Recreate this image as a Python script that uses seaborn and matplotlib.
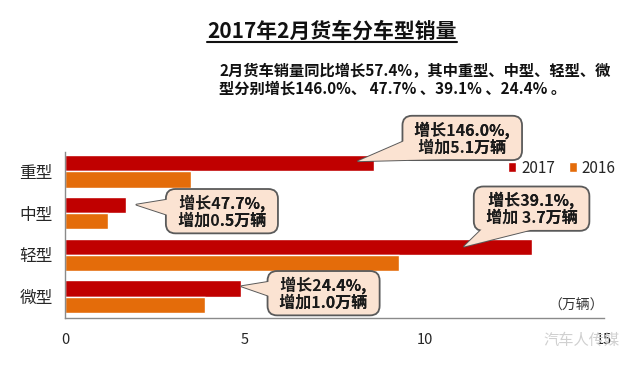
import matplotlib
matplotlib.use('Agg')
import matplotlib.pyplot as plt
from matplotlib.lines import Line2D
import pandas as pd
import seaborn as sns

# 数据 (万辆)
types = ['重型', '中型', '轻型', '微型']
sales_2017 = [8.6, 1.7, 13.0, 4.9]
sales_2016 = [3.5, 1.2, 9.3, 3.9]
years = ['2017', '2016']
callouts = ['增长146.0%,\n增加5.1万辆', '增长47.7%,\n增加0.5万辆',
            '增长39.1%,\n增加 3.7万辆', '增长24.4%,\n增加1.0万辆']
xticks = [0, 5, 10, 15]

title = '2017年2月货车分车型销量'
subtitle = '2月货车销量同比增长57.4%，其中重型、中型、轻型、微\n型分别增长146.0%、 47.7% 、39.1% 、24.4% 。'

sns.set_style('white')
plt.rcParams['font.family'] = ['Noto Sans CJK SC', 'DejaVu Sans']

df = pd.DataFrame({
    'type': types * 2,
    'sales': sales_2017 + sales_2016,
    'year': [years[0]] * 4 + [years[1]] * 4,
})

fig = plt.figure(figsize=(6.4, 3.66), dpi=100)
ax = fig.add_axes([0.102, 0.132, 0.842, 0.4536])

sns.barplot(data=df, y='type', x='sales', hue='year', orient='h',
            palette={'2017': '#C00000', '2016': '#E46C0A'},
            width=0.78, saturation=1, ax=ax, legend=False)

ax.set_xlim(0, 15)
ax.set_ylim(3.5, -0.467)
ax.set_xticks(xticks)
ax.set_xlabel('')
ax.set_ylabel('')
for s in ['top', 'right']:
    ax.spines[s].set_visible(False)
for s in ['left', 'bottom']:
    ax.spines[s].set_color('#8a8a8a')
    ax.spines[s].set_linewidth(1.0)
ax.tick_params(axis='x', direction='in', length=5, color='#8a8a8a',
               labelsize=10.5, pad=11)
ax.tick_params(axis='y', length=0, labelsize=12, pad=9)

# 对话框注释: 先画三角, 再画框, 再用无边三角盖住接口, 最后重写文字
box_fc = '#FBE3D2'
box_ec = '#5a5a5a'
tips = [(sales_2017[0] - 0.45, -0.24), (sales_2017[1] + 0.28, 0.8),
        (sales_2017[2] - 1.9, 1.8), (sales_2017[3], 2.75)]
boxes = [(11.05, -0.79), (4.36, 0.96), (12.98, 0.9), (7.19, 2.92)]
wedge = 'wedge,tail_width=1.0,shrink_factor=0.5'
for txt, tip, box in zip(callouts, tips, boxes):
    ax.annotate('', xy=tip, xytext=box, zorder=5, annotation_clip=False,
                arrowprops=dict(arrowstyle=wedge, mutation_scale=30,
                                fc=box_fc, ec=box_ec, lw=1.4,
                                shrinkA=0, shrinkB=0))
    lines = '\n'.join('  ' + l + '  ' for l in txt.split('\n'))
    ax.text(box[0], box[1], lines, ha='center', va='center', zorder=6,
            fontsize=11.5, fontweight='bold', color='#1a1a1a', linespacing=1.05,
            bbox=dict(boxstyle='round,pad=0.3,rounding_size=0.6',
                      fc=box_fc, ec=box_ec, lw=1.3))
    ax.annotate('', xy=tip, xytext=box, zorder=7, annotation_clip=False,
                arrowprops=dict(arrowstyle=wedge, mutation_scale=30,
                                fc=box_fc, ec='none', lw=0,
                                shrinkA=0, shrinkB=0))
    ax.text(box[0], box[1], lines, ha='center', va='center', zorder=8,
            fontsize=11.5, fontweight='bold', color='#1a1a1a', linespacing=1.05)

# 图例
handles = [plt.Rectangle((0, 0), 1, 1, fc='#C00000'),
           plt.Rectangle((0, 0), 1, 1, fc='#E46C0A')]
fig.legend(handles, years, loc='center left',
           bbox_to_anchor=(508 / 640, 1 - 168 / 366), ncol=2, frameon=False,
           fontsize=11, handlelength=0.55, handleheight=0.55,
           handletextpad=0.3, columnspacing=0.9, borderpad=0, borderaxespad=0)

ax.text(1.0, 0.07, '（万辆）', transform=ax.transAxes, ha='right',
        va='center', fontsize=10, color='#333333')

# 标题（带下划线）
t = fig.text(332 / 640, 1 - 31 / 366, title, ha='center', va='center',
             fontsize=15, fontweight='bold', color='#111111')
fig.canvas.draw()
bb = t.get_window_extent(fig.canvas.get_renderer())
fig.add_artist(Line2D([bb.x0 / 640, bb.x1 / 640], [1 - 42 / 366] * 2,
                      transform=fig.transFigure, color='#111111', lw=1.5))

fig.text(219 / 640, 1 - 80 / 366, subtitle, ha='left', va='center',
         fontsize=11, fontweight='bold', color='#111111', linespacing=1.15)

# 水印
fig.text(620 / 640, 1 - 340 / 366, '汽车人传媒', ha='right', va='center',
         fontsize=11, color='#d0d0d0')

fig.savefig('out.png', dpi=100)
